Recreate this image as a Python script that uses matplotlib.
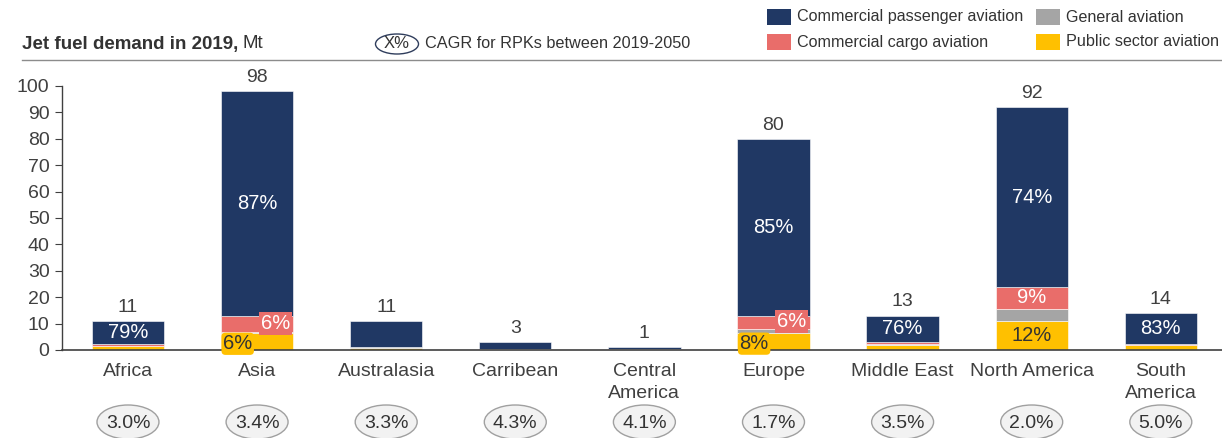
import matplotlib
matplotlib.use("Agg")
import matplotlib.pyplot as plt
from matplotlib.patches import Ellipse, Rectangle
from matplotlib.transforms import blended_transform_factory
import numpy as np

plt.rcParams['font.family'] = ['Liberation Sans', 'DejaVu Sans']

# Jet fuel demand in 2019 by region, Mt
regions = ["Africa", "Asia", "Australasia", "Carribean", "Central\nAmerica",
           "Europe", "Middle East", "North America", "South\nAmerica"]
public_sector = [1.7, 6.3, 0.7, 0.2, 0.0, 6.4, 2.0, 11.0, 1.8]
general = [0.0, 0.5, 0.3, 0.0, 0.0, 1.6, 0.3, 4.6, 0.2]
cargo = [0.6, 5.9, 0.2, 0.3, 0.2, 4.8, 0.8, 8.3, 0.4]
passenger = [8.7, 85.3, 9.8, 2.5, 0.8, 67.2, 9.9, 68.1, 11.6]
totals = [11, 98, 11, 3, 1, 80, 13, 92, 14]
passenger_share = ["79%", "87%", None, None, None, "85%", "76%", "74%", "83%"]
cargo_share = [None, "6%", None, None, None, "6%", None, "9%", None]
public_share = [None, "6%", None, None, None, "8%", None, "12%", None]
cagr = ["3.0%", "3.4%", "3.3%", "4.3%", "4.1%", "1.7%", "3.5%", "2.0%", "5.0%"]

NAVY = "#203864"
RED = "#E96D6A"
GRAY = "#A5A5A5"
YELLOW = "#FFC000"
TXT = "#404040"

W, H = 1222, 438
fig = plt.figure(figsize=(W / 100, H / 100), dpi=100)
ax = fig.add_axes([62 / W, 88 / H, (W - 62) / W, 264 / H])

x = np.arange(len(regions))
bw = 0.56
bottom = np.zeros(len(regions))
for vals, col in [(public_sector, YELLOW), (general, GRAY), (cargo, RED), (passenger, NAVY)]:
    ax.bar(x, vals, bw, bottom=bottom, color=col, edgecolor="white", linewidth=0.4)
    bottom += np.array(vals)

ax.set_xlim(-0.511, 8.474)
ax.set_ylim(0, 100)
ax.set_yticks(range(0, 101, 10))
ax.tick_params(axis='y', length=5, color=TXT, labelsize=14, labelcolor=TXT, pad=4)
ax.set_xticks(x)
ax.set_xticklabels(regions, fontsize=14, color=TXT)
for lab in ax.get_xticklabels():
    lab.set_linespacing(1.45)
ax.tick_params(axis='x', length=0, pad=9)
for s in ["top", "right"]:
    ax.spines[s].set_visible(False)
ax.spines["left"].set_color(TXT)
ax.spines["bottom"].set_color(TXT)
ax.spines["left"].set_linewidth(1.0)
ax.spines["bottom"].set_linewidth(1.2)

# totals above bars
for i, t in enumerate(totals):
    ax.text(i, bottom[i] + 2.0, f"{t}", ha="center", va="bottom", fontsize=14, color=TXT, clip_on=False)

# share labels
gen_b = np.array(public_sector)
car_b = gen_b + np.array(general)
pas_b = car_b + np.array(cargo)
for i in range(len(regions)):
    if passenger_share[i]:
        ax.text(i, pas_b[i] + passenger[i] / 2, passenger_share[i], ha="center", va="center",
                fontsize=14.5, color="white")
    if cargo_share[i]:
        if regions[i] == "North America":
            ax.text(i, car_b[i] + cargo[i] / 2, cargo_share[i], ha="center", va="center",
                    fontsize=14.5, color="white")
        else:
            ax.text(i + 0.14, car_b[i] + cargo[i] / 2 + 0.3, cargo_share[i], ha="center", va="center",
                    fontsize=14.5, color="white",
                    bbox=dict(boxstyle="square,pad=0.1", fc=RED, ec="none"))
    if public_share[i]:
        if regions[i] == "North America":
            ax.text(i, public_sector[i] / 2, public_share[i], ha="center", va="center",
                    fontsize=14.5, color="#333333")
        else:
            ax.text(i - 0.15, public_sector[i] / 2 - 0.8, public_share[i], ha="center", va="center",
                    fontsize=14.5, color="#333333",
                    bbox=dict(boxstyle="round,pad=0.08,rounding_size=0.2", fc=YELLOW, ec="none"))

# CAGR ellipses under each region
btr = blended_transform_factory(ax.transData, fig.transFigure)
for i, c in enumerate(cagr):
    ax.add_patch(Ellipse((i, 1 - 422 / H), 0.48, 34 / H, transform=btr, fc="#F2F2F2",
                         ec="#A0A0A0", lw=1.0, clip_on=False))
    ax.text(i, 1 - 424 / H, c, transform=btr, ha="center", va="center", fontsize=14,
            color="#333333", clip_on=False)

# header
fig.add_artist(plt.Line2D([22 / W, 1], [1 - 59.5 / H] * 2, color="#8C8C8C", lw=1.0))
t1 = fig.text(22 / W, 1 - 44 / H, "Jet fuel demand in 2019,", fontsize=13.5, fontweight="bold",
              color="#333333", va="center", ha="left")
fig.canvas.draw()
bb = t1.get_window_extent()
fig.text((bb.x1 + 4) / W, 1 - 44 / H, "Mt", fontsize=13.5, color="#333333", va="center", ha="left")

fig.add_artist(Ellipse((397 / W, 1 - 44 / H), 43 / W, 20 / H, transform=fig.transFigure,
                       fc="white", ec="#2F3D5C", lw=1.0))
fig.text(397 / W, 1 - 44 / H, "X%", fontsize=12, color="#333333", va="center", ha="center")
fig.text(425 / W, 1 - 44 / H, "CAGR for RPKs between 2019-2050", fontsize=11.7, color="#333333",
         va="center", ha="left")

# legend
legend_items = [("Commercial passenger aviation", NAVY, 767, 17),
                ("General aviation", GRAY, 1036, 17),
                ("Commercial cargo aviation", RED, 767, 42),
                ("Public sector aviation", YELLOW, 1036, 42)]
for label, col, px, py in legend_items:
    fig.add_artist(Rectangle((px / W, 1 - (py + 8) / H), 24 / W, 16 / H, transform=fig.transFigure,
                             fc=col, ec="none"))
    fig.text((px + 30) / W, 1 - py / H, label, fontsize=11.6, color="#333333", va="center", ha="left")

fig.savefig("out.png", dpi=100)
